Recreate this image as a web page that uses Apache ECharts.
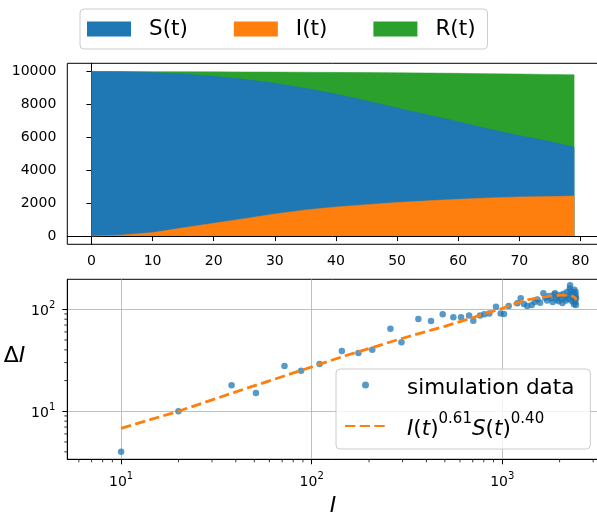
<!DOCTYPE html>
<html><head><meta charset="utf-8">
<script src="https://cdn.jsdelivr.net/npm/echarts@6/dist/echarts.min.js"></script>
<style>html,body{margin:0;padding:0;background:#fff}#c{width:597px;height:515px}</style>
</head><body><div id="c"></div>
<script>
// ---- top panel data (stacked: I bottom, S middle, R top) ----
const tValues = [0,5,10,15,20,25,30,35,40,45,50,55,60,65,70,75,79];
const infected = [0,60,210,500,780,1060,1340,1590,1770,1910,2040,2140,2240,2320,2380,2400,2440];
const susceptible = [10000,9930,9735,9350,8940,8470,7940,7400,6860,6320,5740,5230,4710,4190,3730,3350,2960];
const recovered = [0,8,48,138,262,445,688,970,1320,1710,2145,2540,2940,3360,3740,4075,4400];
const timeTicks = [0,10,20,30,40,50,60,70,80];
const popTicks = [0,2000,4000,6000,8000,10000];

// ---- bottom panel data ----
const simI = [10,20,38,51,72,88,110,144,176,208,259,296,363,423,487,554,608,670,705,765,806,855,927,981,1021,1081,1200,1250,1300,1353,1428,
  1480,1530,1580,1644,1680,1720,1760,1800,1840,1870,1893,1920,1950,1980,2010,2040,2070,2100,2130,2160,2190,2210,2240,2260,2270,2290,2310,2330,2350,2360,2380,2390,2400,2410,2420,2425,2430,2435,2440];
const simDI = [4.0,10,18,15.1,27.8,25,29,39,37.3,40,64.5,47.4,80.4,76.7,89.3,83.5,83.5,87,77.3,87,89.3,91,106,91,90,107.7,114.5,128,112.7,107.7,110,
  118,125,116,144,130,122,135,128,118,140,144,125,132,120,138,126,115,142,130,122,148,135,126,160,172,150,138,120,145,130,112,155,140,125,118,148,135,110,128];
const fitI = [10,20,40,90,150,300,500,1000,1300,1600,1900,2200,2350,2420,2440];
const fitDI = [6.8,10,15.5,25.5,35,52,68,102,122,131,137,138,134,129,122];
const logTicksX = [10,100,1000];
const logTicksY = [10,100];
const minorTicksX = [6,7,8,9,20,30,40,50,60,70,80,90,200,300,400,500,600,700,800,900,2000,3000];
const minorTicksY = [4,5,6,7,8,9,20,30,40,50,60,70,80,90];

const X2MIN = 5.22, X2MAX = 3200, Y2MIN = 3.38, Y2MAX = 196.8;
const FONT = 'DejaVu Sans';
const C = {S:'#1f77b4', I:'#ff7f0e', R:'#2ca02c'};

// cumulative layers for the stack plot (drawn back to front)
const layerI = infected.slice();
const layerS = infected.map((v,i)=>v + susceptible[i]);
const layerR = layerS.map((v,i)=>v + recovered[i]);

function pairs(xs, ys){ return xs.map((x,i)=>[x, ys[i]]); }
function isPow10(v){ const l = Math.log10(v); return Math.abs(l - Math.round(l)) < 1e-6; }
function powLabel(v){ return isPow10(v) ? '{m|10}{s|' + Math.round(Math.log10(v)) + '}' : ''; }
const powRich = {
  m:{fontFamily:FONT, fontSize:14, color:'#000', lineHeight:18, verticalAlign:'bottom'},
  s:{fontFamily:FONT, fontSize:10, color:'#000', lineHeight:10, verticalAlign:'top'}
};

const chart = echarts.init(document.getElementById('c'), null, {renderer:'canvas'});
const axisLineBlack = {show:true, lineStyle:{color:'#000', width:1}};

function areaSeries(name, layer, color){
  return {name:name, type:'line', xAxisIndex:0, yAxisIndex:0, data:pairs(tValues, layer),
    symbol:'none', showSymbol:false, lineStyle:{width:0.5, color:color}, areaStyle:{opacity:1, color:color},
    itemStyle:{color:color}, emphasis:{disabled:true}, silent:true};
}

const option = {
  animation:false,
  backgroundColor:'#fff',
  grid:[
    {left:67.3, top:63.3, width:531.2, height:181, show:true, borderColor:'#000', borderWidth:1, backgroundColor:'transparent', outerBoundsMode:'none', containLabel:false},
    {left:67.3, top:279.3, width:531.2, height:180, show:true, borderColor:'#000', borderWidth:1, backgroundColor:'transparent', outerBoundsMode:'none', containLabel:false}
  ],
  legend:[
    {
      data:['S(t)','I(t)','R(t)'],
      left:80, top:9, orient:'horizontal',
      itemWidth:44, itemHeight:15, itemGap:46,
      padding:[9,12,9,7],
      borderColor:'#cccccc', borderWidth:1, borderRadius:4, backgroundColor:'rgba(255,255,255,0.8)',
      icon:'rect',
      textStyle:{fontFamily:FONT, fontSize:21.5, color:'#000', padding:[0,0,0,13]},
      selectedMode:false
    },
    {
      data:[{name:'simulation data'}, {name:'fit', itemStyle:{opacity:0}}],
      left:336, top:369, orient:'vertical',
      itemWidth:41, itemHeight:7, itemGap:13,
      padding:[8,16,9,8],
      borderColor:'#cccccc', borderWidth:1, borderRadius:4, backgroundColor:'rgba(255,255,255,0.8)',
      selectedMode:false,
      formatter:function(name){
        if(name === 'fit') return '{i|I}{n|(}{i|t}{n|)}{s|0.61}{i|S}{n|(}{i|t}{n|)}{s|0.40}';
        return '{n|' + name + '}';
      },
      textStyle:{fontFamily:FONT, fontSize:21.5, color:'#000', padding:[0,0,0,16],
        rich:{
          n:{fontFamily:FONT, fontSize:21.5, color:'#000', lineHeight:28, verticalAlign:'bottom'},
          i:{fontFamily:FONT, fontSize:21.5, fontStyle:'italic', color:'#000', lineHeight:28, verticalAlign:'bottom'},
          s:{fontFamily:FONT, fontSize:15, color:'#000', lineHeight:14, verticalAlign:'top'}
        }
      }
    }
  ],
  xAxis:[
    {
      gridIndex:0, type:'value', min:-3.95, max:82.95,
      axisLine:axisLineBlack,
      axisTick:{show:true, length:5, lineStyle:{color:'#000'}, customValues:timeTicks},
      axisLabel:{fontFamily:FONT, fontSize:14, color:'#000', margin:10, customValues:timeTicks, formatter:v=>String(v)},
      splitLine:{show:false}
    },
    {
      gridIndex:1, type:'log', logBase:10, min:X2MIN, max:X2MAX,
      axisLine:axisLineBlack,
      axisTick:{show:true, length:5, lineStyle:{color:'#000'}, customValues:logTicksX},
      axisLabel:{customValues:logTicksX, margin:12, verticalAlign:'top', formatter:powLabel, rich:powRich},
      splitLine:{show:true, lineStyle:{color:'#b0b0b0', width:0.8}},
      name:'{i|I}', nameLocation:'middle', nameGap:36,
      nameTextStyle:{rich:{i:{fontFamily:FONT, fontSize:22, fontStyle:'italic', color:'#000'}}}
    }
  ],
  yAxis:[
    {
      gridIndex:0, type:'value', min:-500, max:10500,
      axisLine:axisLineBlack,
      axisTick:{show:true, length:5, lineStyle:{color:'#000'}, customValues:popTicks},
      axisLabel:{fontFamily:FONT, fontSize:14, color:'#000', margin:11, customValues:popTicks, formatter:v=>String(v)},
      splitLine:{show:false}
    },
    {
      gridIndex:1, type:'log', logBase:10, min:Y2MIN, max:Y2MAX,
      axisLine:axisLineBlack,
      axisTick:{show:true, length:5, lineStyle:{color:'#000'}, customValues:logTicksY},
      axisLabel:{customValues:logTicksY, margin:12, formatter:powLabel, rich:powRich},
      splitLine:{show:true, lineStyle:{color:'#b0b0b0', width:0.8}},
      name:'{n|Δ}{i|I}', nameLocation:'middle', nameGap:34, nameRotate:0,
      nameTextStyle:{padding:[0,0,26,0], rich:{
        n:{fontFamily:FONT, fontSize:22, color:'#000'},
        i:{fontFamily:FONT, fontSize:22, fontStyle:'italic', color:'#000'}
      }}
    }
  ],
  series:[
    areaSeries('R(t)', layerR, C.R),
    areaSeries('S(t)', layerS, C.S),
    areaSeries('I(t)', layerI, C.I),
    {name:'simulation data', type:'scatter', xAxisIndex:1, yAxisIndex:1, data:pairs(simI, simDI),
      symbol:'circle', symbolSize:6.5, itemStyle:{color:C.S, opacity:0.75}, z:2, emphasis:{disabled:true}},
    {name:'fit', type:'line', xAxisIndex:1, yAxisIndex:1, data:pairs(fitI, fitDI),
      symbol:'none', showSymbol:false, lineStyle:{color:C.I, width:2.8, type:[10.3,4.4]}, itemStyle:{color:C.I}, z:3, emphasis:{disabled:true}},
    {name:'minorX', type:'custom', xAxisIndex:1, yAxisIndex:1, clip:false, silent:true,
      data:minorTicksX.map(v=>[v, Y2MIN]),
      renderItem:function(params, api){
        const p = api.coord([api.value(0), api.value(1)]);
        return {type:'line', shape:{x1:p[0], y1:p[1], x2:p[0], y2:p[1]+3}, style:{stroke:'#000', lineWidth:0.8}};
      }},
    {name:'minorY', type:'custom', xAxisIndex:1, yAxisIndex:1, clip:false, silent:true,
      data:minorTicksY.map(v=>[X2MIN, v]),
      renderItem:function(params, api){
        const p = api.coord([api.value(0), api.value(1)]);
        return {type:'line', shape:{x1:p[0], y1:p[1], x2:p[0]-3, y2:p[1]}, style:{stroke:'#000', lineWidth:0.8}};
      }}
  ]
};
chart.setOption(option);
</script>
</body></html>
